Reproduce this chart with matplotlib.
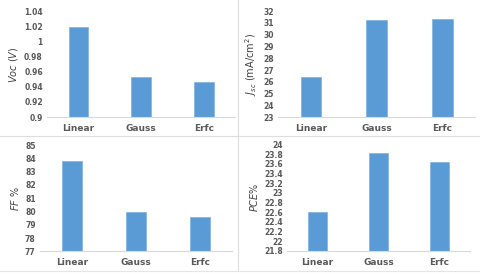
import numpy as np
import matplotlib.pyplot as plt
from matplotlib.lines import Line2D

# data
categories = ["Linear", "Gauss", "Erfc"]
voc = [1.02, 0.953, 0.947]
jsc = [26.4, 31.22, 31.3]
ff = [83.8, 79.95, 79.6]
pce = [22.6, 23.83, 23.63]

voc_ticks = [0.9, 0.92, 0.94, 0.96, 0.98, 1, 1.02, 1.04]
voc_ticklabels = ["0.9", "0.92", "0.94", "0.96", "0.98", "1", "1.02", "1.04"]
jsc_ticks = list(range(23, 33))
ff_ticks = list(range(77, 86))
pce_ticks = [21.8, 22, 22.2, 22.4, 22.6, 22.8, 23, 23.2, 23.4, 23.6, 23.8, 24]
pce_ticklabels = ["21.8", "22", "22.2", "22.4", "22.6", "22.8", "23", "23.2", "23.4", "23.6", "23.8", "24"]

bar_color = "#5B9BD5"
text_color = "#595959"
line_color = "#D9D9D9"

fig = plt.figure(figsize=(4.8, 2.76), dpi=100)

# left, bottom, width, height (figure fraction)
boxes = [
    [0.098, 0.576, 0.392, 0.382],
    [0.579, 0.575, 0.411, 0.385],
    [0.083, 0.0895, 0.400, 0.3845],
    [0.598, 0.0917, 0.381, 0.3843],
]
panels = [
    (voc, voc_ticks, voc_ticklabels, r"$\it{Voc}$ $\it{(V)}$"),
    (jsc, jsc_ticks, [str(t) for t in jsc_ticks], r"$J_{sc}$ (mA/cm$^2$)"),
    (ff, ff_ticks, [str(t) for t in ff_ticks], r"$\it{FF}$ %"),
    (pce, pce_ticks, pce_ticklabels, r"$\it{PCE}$%"),
]

x = np.arange(len(categories))
for box, (vals, ticks, tlabels, ylab) in zip(boxes, panels):
    ax = fig.add_axes(box)
    ax.bar(x, vals, width=0.31, color=bar_color, edgecolor="#7FB2E0", linewidth=0.5, zorder=2)
    ax.set_xlim(-0.5, 2.5)
    ax.set_ylim(ticks[0], ticks[-1])
    ax.set_yticks(ticks)
    ax.set_yticklabels(tlabels, fontsize=5.5, color=text_color, fontweight="bold")
    ax.set_xticks(x)
    ax.set_xticklabels(categories, fontsize=6.5, color=text_color, fontweight="bold")
    for s in ["top", "right", "left"]:
        ax.spines[s].set_visible(False)
    ax.spines["bottom"].set_color(line_color)
    ax.spines["bottom"].set_linewidth(0.8)
    ax.tick_params(axis="both", length=0, pad=3)
    ax.tick_params(axis="x", pad=5)
    ax.set_ylabel(ylab, fontsize=7, color="#404040", labelpad=3)

# panel separators
fig.add_artist(Line2D([238 / 480, 238 / 480], [0.02, 1.0], color="#DDDDDD", lw=0.8))
fig.add_artist(Line2D([0.0, 1.0], [1 - 136 / 276, 1 - 136 / 276], color="#DDDDDD", lw=0.8))
fig.add_artist(Line2D([0.0, 1.0], [1 - 271 / 276, 1 - 271 / 276], color="#E5E5E5", lw=0.8))

fig.savefig("out.png", dpi=100)
